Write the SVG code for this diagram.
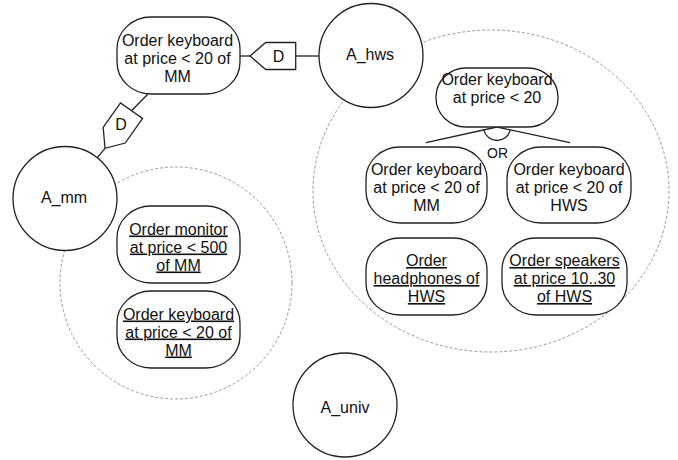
<svg xmlns="http://www.w3.org/2000/svg" width="678" height="460" viewBox="0 0 678 460">
<style>
.bg{fill:#fff}
.scope{fill:none;stroke:#999;stroke-width:1;stroke-dasharray:3,2}
.node{fill:#fff;stroke:#222;stroke-width:1.3}
.edge{fill:none;stroke:#222;stroke-width:1.3}
.dep{fill:#fff;stroke:#222;stroke-width:1.3;stroke-linejoin:miter}
text{font-family:"Liberation Sans",Arial,sans-serif;font-size:16px;fill:#111;text-anchor:middle}
.u{text-decoration:underline}
.sm{font-size:14px}
</style>
<rect class="bg" x="0" y="0" width="678" height="460"/>
<g id="scopes">
<ellipse class="scope" cx="491" cy="191" rx="178" ry="161"/>
<circle class="scope" cx="176" cy="283" r="116"/>
</g>
<g id="connectors">
<line class="edge" x1="240" y1="56" x2="250" y2="56"/>
<line class="edge" x1="295.7" y1="56" x2="319" y2="56"/>
<polygon class="dep" points="250,56 265.7,42.5 295.7,42.5 295.7,69.5 265.7,69.5"/>
<text x="278.5" y="61.5">D</text>
<line class="edge" x1="148" y1="94" x2="131.5" y2="110.8"/>
<line class="edge" x1="105" y1="148.3" x2="96.7" y2="158.3"/>
<polygon class="dep" transform="translate(105,148.3) rotate(-54.8)" points="0,0 16,-13.5 46,-13.5 46,13.5 16,13.5"/>
<text x="121" y="130">D</text>
<line class="edge" x1="497" y1="127" x2="426" y2="142.7"/>
<line class="edge" x1="497" y1="127" x2="570" y2="142.7"/>
<path class="edge" d="M483.8,129.9 A13.5,13.5 0 0 0 510.2,129.8"/>
<text class="sm" x="497.5" y="158">OR</text>
</g>
<g id="A_hws">
<circle class="node" cx="371" cy="55.5" r="52"/>
<text x="370" y="59.5">A_hws</text>
</g>
<g id="A_mm">
<circle class="node" cx="65" cy="198.5" r="52"/>
<text x="64" y="203">A_mm</text>
</g>
<g id="A_univ">
<circle class="node" cx="345" cy="405" r="52"/>
<text x="345" y="413">A_univ</text>
</g>
<g id="kb_mm_top">
<rect class="node" x="117" y="17" width="123" height="77" rx="34" ry="32"/>
<text x="177.5" y="46">Order keyboard</text>
<text x="177.5" y="64">at price &lt; 20 of</text>
<text x="177.5" y="82">MM</text>
</g>
<g id="kb_goal">
<rect class="node" x="436" y="68" width="122" height="59" rx="30" ry="29"/>
<text x="497" y="85">Order keyboard</text>
<text x="497" y="103">at price &lt; 20</text>
</g>
<g id="kb_mm_hws">
<rect class="node" x="366" y="147" width="121" height="76" rx="34" ry="32"/>
<text x="426.5" y="175">Order keyboard</text>
<text x="426.5" y="193">at price &lt; 20 of</text>
<text x="426.5" y="211">MM</text>
</g>
<g id="kb_hws">
<rect class="node" x="507" y="147" width="124" height="76" rx="34" ry="32"/>
<text x="569" y="175">Order keyboard</text>
<text x="569" y="193">at price &lt; 20 of</text>
<text x="569" y="211">HWS</text>
</g>
<g id="headphones">
<rect class="node" x="366" y="238" width="121" height="77" rx="34" ry="32"/>
<text class="u" x="426.5" y="266">Order</text>
<text class="u" x="426.5" y="284">headphones of</text>
<text class="u" x="426.5" y="302">HWS</text>
</g>
<g id="speakers">
<rect class="node" x="502" y="238" width="125" height="77" rx="34" ry="32"/>
<text class="u" x="564.5" y="266">Order speakers</text>
<text class="u" x="564.5" y="284">at price 10..30</text>
<text class="u" x="564.5" y="302">of HWS</text>
</g>
<g id="monitor">
<rect class="node" x="117" y="206" width="123" height="77" rx="34" ry="32"/>
<text class="u" x="178.5" y="234.5">Order monitor</text>
<text class="u" x="178.5" y="252.5">at price &lt; 500</text>
<text class="u" x="178.5" y="270.5">of MM</text>
</g>
<g id="kb_mm_bottom">
<rect class="node" x="117" y="291" width="123" height="77" rx="34" ry="32"/>
<text class="u" x="178.5" y="319.5">Order keyboard</text>
<text class="u" x="178.5" y="337.5">at price &lt; 20 of</text>
<text class="u" x="178.5" y="355.5">MM</text>
</g>
</svg>
